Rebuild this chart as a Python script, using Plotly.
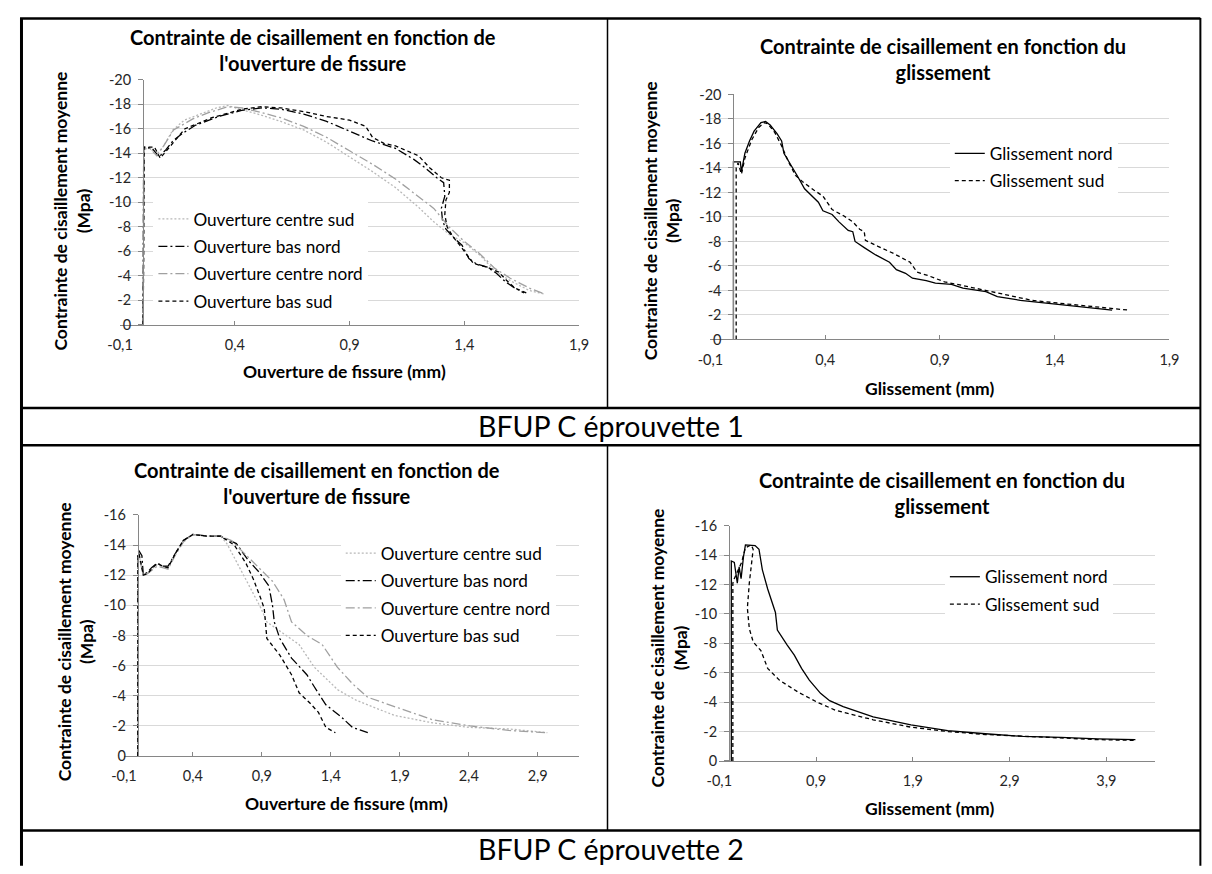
import plotly.graph_objects as go

# The page body keeps the browser's default 8 px margin, so the figure is
# sized to fit exactly inside the 1212x874 window.
PAGE_W, PAGE_H = 1212, 874
OFF = 8
W, H = PAGE_W - 2 * OFF, PAGE_H - 2 * OFF

# ---------------- DATA ----------------
# Panel 1 : BFUP C éprouvette 1 - ouverture de fissure (mm) vs contrainte (MPa)
p1_centre_sud_x = [0.0, 0.002, 0.003, 0.03, 0.06, 0.09, 0.13, 0.18, 0.25, 0.32, 0.37, 0.42, 0.5, 0.6, 0.7, 0.8, 0.9, 1.0, 1.1, 1.167, 1.2, 1.267, 1.333, 1.4, 1.467, 1.533, 1.6, 1.683, 1.75]
p1_centre_sud_y = [0.0, -7.0, -14.3, -14.4, -13.9, -14.6, -15.9, -16.7, -17.2, -17.7, -17.9, -17.6, -17.2, -16.6, -15.9, -14.9, -13.7, -12.5, -11.2, -10.1, -9.6, -8.4, -7.4, -6.7, -5.7, -4.4, -3.6, -2.8, -2.5]
p1_bas_nord_x = [0.0, 0.001, 0.003, 0.04, 0.07, 0.1, 0.13, 0.17, 0.23, 0.33, 0.43, 0.52, 0.6, 0.7, 0.8, 0.9, 1.0, 1.05, 1.1, 1.18, 1.23, 1.28, 1.31, 1.315, 1.3, 1.305, 1.32, 1.36, 1.39, 1.42, 1.45, 1.5, 1.54, 1.58, 1.62, 1.66]
p1_bas_nord_y = [0.0, -6.0, -14.5, -14.4, -13.7, -14.3, -15.0, -15.6, -16.3, -17.0, -17.5, -17.7, -17.6, -17.2, -16.6, -15.8, -15.0, -14.7, -14.4, -13.5, -12.8, -12.0, -11.6, -10.5, -9.5, -8.5, -7.8, -7.0, -6.5, -5.4, -5.0, -4.7, -4.2, -3.5, -3.0, -2.6]
p1_centre_nord_x = [0.0, 0.002, 0.004, 0.03, 0.06, 0.09, 0.133, 0.217, 0.283, 0.37, 0.43, 0.5, 0.6, 0.7, 0.8, 0.9, 1.0, 1.1, 1.2, 1.267, 1.333, 1.4, 1.467, 1.533, 1.6, 1.683, 1.75]
p1_centre_nord_y = [0.0, -8.0, -14.4, -14.4, -13.8, -14.6, -15.9, -16.8, -17.3, -17.8, -17.7, -17.4, -16.9, -16.2, -15.3, -14.2, -13.1, -11.9, -10.5, -9.5, -8.0, -6.8, -5.8, -4.6, -3.8, -3.0, -2.5]
p1_bas_sud_x = [0.0, 0.003, 0.005, 0.05, 0.075, 0.11, 0.183, 0.3, 0.433, 0.517, 0.6, 0.7, 0.8, 0.9, 0.97, 1.0, 1.05, 1.1, 1.15, 1.2, 1.25, 1.3, 1.335, 1.335, 1.32, 1.315, 1.325, 1.35, 1.38, 1.41, 1.44, 1.5, 1.55, 1.58, 1.62, 1.67]
p1_bas_sud_y = [0.0, -5.0, -14.5, -14.5, -13.6, -14.4, -16.0, -16.9, -17.6, -17.8, -17.7, -17.4, -17.0, -16.7, -16.2, -15.3, -14.8, -14.6, -14.2, -13.8, -12.8, -12.0, -11.8, -10.8, -10.2, -9.0, -8.0, -7.2, -6.5, -5.7, -5.0, -4.7, -4.3, -3.7, -3.0, -2.6]

# Panel 2 : BFUP C éprouvette 1 - glissement (mm) vs contrainte (MPa)
p2_nord_x = [0.0, 0.0, 0.03, 0.035, 0.05, 0.07, 0.09, 0.12, 0.14, 0.16, 0.19, 0.21, 0.22, 0.25, 0.28, 0.31, 0.35, 0.37, 0.39, 0.43, 0.46, 0.5, 0.52, 0.53, 0.57, 0.62, 0.68, 0.71, 0.75, 0.78, 0.84, 0.88, 0.95, 1.0, 1.1, 1.15, 1.25, 1.35, 1.45, 1.55, 1.65]
p2_nord_y = [0.0, -14.5, -14.5, -13.7, -15.2, -16.2, -17.0, -17.7, -17.8, -17.5, -16.8, -16.2, -15.2, -14.3, -13.3, -12.3, -11.6, -11.2, -10.5, -10.2, -9.6, -8.9, -8.8, -8.0, -7.5, -6.9, -6.3, -5.7, -5.4, -5.0, -4.8, -4.6, -4.5, -4.2, -3.9, -3.5, -3.2, -3.0, -2.8, -2.6, -2.4]
p2_sud_x = [0.012, 0.012, 0.02, 0.035, 0.05, 0.08, 0.11, 0.135, 0.15, 0.18, 0.21, 0.24, 0.27, 0.3, 0.35, 0.39, 0.43, 0.48, 0.52, 0.55, 0.57, 0.575, 0.63, 0.7, 0.77, 0.8, 0.85, 0.92, 1.0, 1.1, 1.2, 1.3, 1.45, 1.6, 1.72]
p2_sud_y = [0.0, -14.0, -14.4, -13.5, -14.8, -16.3, -17.3, -17.7, -17.6, -16.9, -15.8, -14.5, -13.4, -12.9, -12.2, -11.7, -10.6, -10.1, -9.6, -9.0, -8.8, -8.1, -7.6, -7.0, -6.3, -5.5, -5.2, -4.7, -4.4, -4.0, -3.6, -3.2, -2.9, -2.6, -2.4]

# Panel 3 : BFUP C éprouvette 2 - ouverture de fissure (mm) vs contrainte (MPa)
p3_centre_sud_x = [0.0, 0.001, 0.01, 0.04, 0.07, 0.1, 0.14, 0.18, 0.22, 0.27, 0.33, 0.4, 0.5, 0.6, 0.646, 0.756, 0.894, 0.936, 1.03, 1.17, 1.28, 1.45, 1.585, 1.86, 2.14, 2.41, 2.69, 2.97]
p3_centre_sud_y = [0.0, -13.3, -13.3, -12.1, -12.1, -12.4, -12.7, -12.6, -12.5, -13.4, -14.3, -14.7, -14.6, -14.6, -14.1, -12.2, -9.8, -8.9, -8.3, -7.4, -5.9, -4.4, -3.7, -2.7, -2.2, -1.9, -1.8, -1.55]
p3_bas_nord_x = [0.0, 0.001, 0.01, 0.03, 0.04, 0.07, 0.1, 0.14, 0.18, 0.22, 0.27, 0.33, 0.4, 0.5, 0.6, 0.715, 0.8, 0.88, 0.95, 0.977, 0.99, 1.03, 1.115, 1.226, 1.28, 1.364, 1.475, 1.557, 1.668]
p3_bas_nord_y = [0.0, -13.5, -13.6, -13.3, -12.0, -12.2, -12.5, -12.8, -12.6, -12.6, -13.4, -14.3, -14.7, -14.6, -14.6, -14.1, -13.0, -12.2, -11.3, -10.0, -8.9, -7.8, -6.5, -5.4, -4.6, -3.4, -2.6, -1.9, -1.55]
p3_centre_nord_x = [0.0, 0.001, 0.01, 0.04, 0.07, 0.1, 0.14, 0.18, 0.22, 0.27, 0.33, 0.4, 0.5, 0.6, 0.68, 0.756, 0.867, 0.977, 1.06, 1.115, 1.226, 1.337, 1.447, 1.557, 1.668, 1.86, 2.14, 2.41, 2.69, 2.97]
p3_centre_nord_y = [0.0, -13.2, -13.2, -12.0, -12.1, -12.3, -12.6, -12.5, -12.4, -13.3, -14.2, -14.7, -14.6, -14.6, -14.3, -13.6, -12.6, -11.6, -10.4, -8.9, -8.0, -7.4, -5.9, -4.8, -3.9, -3.3, -2.4, -2.0, -1.7, -1.55]
p3_bas_sud_x = [0.0, 0.001, 0.01, 0.04, 0.07, 0.1, 0.14, 0.18, 0.22, 0.27, 0.33, 0.4, 0.5, 0.6, 0.7, 0.784, 0.84, 0.894, 0.917, 0.936, 1.03, 1.115, 1.17, 1.25, 1.31, 1.364, 1.433]
p3_bas_sud_y = [0.0, -13.4, -13.4, -12.0, -12.1, -12.4, -12.8, -12.6, -12.5, -13.4, -14.3, -14.7, -14.6, -14.6, -14.0, -12.8, -11.7, -10.4, -9.8, -7.8, -6.7, -5.4, -4.2, -3.5, -2.9, -1.9, -1.55]

# Panel 4 : BFUP C éprouvette 2 - glissement (mm) vs contrainte (MPa)
p4_nord_x = [0.024, 0.024, 0.055, 0.086, 0.105, 0.125, 0.15, 0.17, 0.27, 0.31, 0.345, 0.4, 0.48, 0.5, 0.6, 0.675, 0.75, 0.83, 0.946, 1.04, 1.18, 1.49, 1.88, 2.26, 2.65, 3.04, 3.43, 3.81, 4.2]
p4_nord_y = [0.0, -13.6, -13.5, -12.1, -13.2, -12.4, -13.9, -14.7, -14.65, -14.4, -13.0, -11.7, -10.1, -8.9, -7.9, -7.2, -6.3, -5.5, -4.6, -4.1, -3.7, -3.0, -2.45, -2.07, -1.85, -1.67, -1.6, -1.5, -1.45]
p4_sud_x = [0.04, 0.04, 0.055, 0.094, 0.13, 0.17, 0.23, 0.25, 0.21, 0.19, 0.21, 0.25, 0.33, 0.4, 0.52, 0.71, 0.91, 1.1, 1.49, 1.88, 2.26, 2.65, 3.04, 3.43, 3.81, 4.2]
p4_sud_y = [0.0, -12.1, -12.4, -13.0, -13.5, -14.5, -14.7, -14.4, -12.1, -10.4, -9.0, -8.1, -7.5, -6.3, -5.5, -4.7, -4.0, -3.45, -2.8, -2.3, -2.0, -1.8, -1.67, -1.55, -1.45, -1.4]

# Tick values and labels
xticks_p12 = [-0.1, 0.4, 0.9, 1.4, 1.9]
xticklabels_p12 = ["-0,1", "0,4", "0,9", "1,4", "1,9"]
xticks_p3 = [-0.1, 0.4, 0.9, 1.4, 1.9, 2.4, 2.9]
xticklabels_p3 = ["-0,1", "0,4", "0,9", "1,4", "1,9", "2,4", "2,9"]
xticks_p4 = [-0.1, 0.9, 1.9, 2.9, 3.9]
xticklabels_p4 = ["-0,1", "0,9", "1,9", "2,9", "3,9"]
yticks_p12 = [0, -2, -4, -6, -8, -10, -12, -14, -16, -18, -20]
yticklabels_p12 = ["0", "-2", "-4", "-6", "-8", "-10", "-12", "-14", "-16", "-18", "-20"]
yticks_p34 = [0, -2, -4, -6, -8, -10, -12, -14, -16]
yticklabels_p34 = ["0", "-2", "-4", "-6", "-8", "-10", "-12", "-14", "-16"]

title_ouv = "Contrainte de cisaillement en fonction de<br>l'ouverture de fissure"
title_gli = "Contrainte de cisaillement en fonction du<br>glissement"
ytitle = "Contrainte de cisaillement moyenne<br>(Mpa)"
xtitle_ouv = "Ouverture de fissure (mm)"
xtitle_gli = "Glissement (mm)"
captions = ["BFUP C éprouvette 1", "BFUP C éprouvette 2"]

# ---------------- STYLE / LAYOUT ----------------
FONT = "Lato"
AX = "#868686"
GRID = "#d9d9d9"
TXT = "#262626"


def PX(p):
    """page pixel x -> paper fraction"""
    return (p - OFF) / W


def PY(p):
    """page pixel y -> paper fraction"""
    return 1 - (p - OFF) / H


panels = [
    dict(x0=109, x1=577, y0=72, y1=322, xr=[-0.1, 1.9], yr=[0, -20], xt=xticks_p12, xl=xticklabels_p12, yt=yticks_p12, yl=yticklabels_p12),
    dict(x0=711, x1=1179, y0=87, y1=337, xr=[-0.1, 1.9], yr=[0, -20], xt=xticks_p12, xl=xticklabels_p12, yt=yticks_p12, yl=yticklabels_p12),
    dict(x0=113, x1=577, y0=516, y1=762, xr=[-0.1, 3.2], yr=[0, -16], xt=xticks_p3, xl=xticklabels_p3, yt=yticks_p34, yl=yticklabels_p34),
    dict(x0=720, x1=1164, y0=527, y1=767, xr=[-0.1, 4.4], yr=[0, -16], xt=xticks_p4, xl=xticklabels_p4, yt=yticks_p34, yl=yticklabels_p34),
]

fig = go.Figure()

styles_ouv = [
    ("Ouverture centre sud", "#b8b8b8", "2px,2px", 1.3),
    ("Ouverture bas nord", "#000000", "9px,3px,2px,3px", 1.3),
    ("Ouverture centre nord", "#a0a0a0", "9px,3px,2px,3px", 1.3),
    ("Ouverture bas sud", "#000000", "4px,3px", 1.3),
]
styles_gli = [
    ("Glissement nord", "#000000", "solid", 1.3),
    ("Glissement sud", "#000000", "4px,3px", 1.3),
]

series = [
    (1, styles_ouv, [(p1_centre_sud_x, p1_centre_sud_y), (p1_bas_nord_x, p1_bas_nord_y), (p1_centre_nord_x, p1_centre_nord_y), (p1_bas_sud_x, p1_bas_sud_y)]),
    (2, styles_gli, [(p2_nord_x, p2_nord_y), (p2_sud_x, p2_sud_y)]),
    (3, styles_ouv, [(p3_centre_sud_x, p3_centre_sud_y), (p3_bas_nord_x, p3_bas_nord_y), (p3_centre_nord_x, p3_centre_nord_y), (p3_bas_sud_x, p3_bas_sud_y)]),
    (4, styles_gli, [(p4_nord_x, p4_nord_y), (p4_sud_x, p4_sud_y)]),
]

for idx, styles, data in series:
    sfx = "" if idx == 1 else str(idx)
    for (name, color, dash, width), (xs, ys) in zip(styles, data):
        fig.add_trace(go.Scatter(
            x=xs, y=ys, mode="lines", name=name,
            line=dict(color=color, dash=dash, width=width),
            xaxis="x" + sfx, yaxis="y" + sfx,
            legend="legend" + sfx, legendgroup=name + sfx,
            hoverinfo="skip",
        ))

layout = dict(
    width=W, height=H, autosize=False,
    margin=dict(l=0, r=0, t=0, b=0, pad=0),
    paper_bgcolor="white", plot_bgcolor="white",
    font=dict(family=FONT, color=TXT),
    showlegend=True,
)

for i, p in enumerate(panels, start=1):
    sfx = "" if i == 1 else str(i)
    xspan = p["xr"][1] - p["xr"][0]
    zero_px = p["x0"] + (0 - p["xr"][0]) / xspan * (p["x1"] - p["x0"])
    layout["xaxis" + sfx] = dict(
        domain=[PX(p["x0"]), PX(p["x1"])], anchor="y" + sfx, range=p["xr"],
        tickvals=p["xt"], ticktext=p["xl"], showgrid=False, zeroline=False,
        showline=True, linecolor=AX, linewidth=1, ticks="inside", ticklen=4,
        tickcolor=AX, tickfont=dict(family=FONT, size=14.5, color=TXT),
        ticklabelstandoff=7, fixedrange=True,
    )
    layout["yaxis" + sfx] = dict(
        domain=[PY(p["y1"]), PY(p["y0"])], anchor="free", position=PX(zero_px),
        range=p["yr"], tickvals=p["yt"], ticktext=p["yl"], showgrid=True,
        gridcolor=GRID, gridwidth=1, zeroline=False, showline=True,
        linecolor=AX, linewidth=1, ticks="outside", ticklen=5, tickcolor=AX,
        tickfont=dict(family=FONT, size=14.5, color=TXT), ticklabelstandoff=4,
        fixedrange=True,
    )

legend_pos = [(143, 196), (955, 129), (334, 537), (950, 561)]
for i, (lx, ly) in enumerate(legend_pos, start=1):
    sfx = "" if i == 1 else str(i)
    layout["legend" + sfx] = dict(
        x=PX(lx), y=PY(ly), xanchor="left", yanchor="top",
        bgcolor="white", borderwidth=0, tracegroupgap=2,
        font=dict(family=FONT, size=17.2, color="#000000"), itemwidth=30,
        itemclick=False, itemdoubleclick=False,
    )

annotations = []
titles = [(title_ouv, 306, 42), (title_gli, 948, 51), (title_ouv, 310, 483.5), (title_gli, 947, 493.5)]
for t, cx, cy in titles:
    annotations.append(dict(text="<b>" + t + "</b>", x=PX(cx), y=PY(cy), xref="paper", yref="paper",
                            showarrow=False, xanchor="center", yanchor="middle",
                            font=dict(family=FONT, size=20, color="#000000")))
ytitles = [(60.5, 206), (661, 216), (64, 645), (669, 652)]
for cx, cy in ytitles:
    annotations.append(dict(text="<b>" + ytitle + "</b>", x=PX(cx), y=PY(cy), xref="paper", yref="paper",
                            showarrow=False, xanchor="center", yanchor="middle", textangle=-90,
                            font=dict(family=FONT, size=17.5, color="#000000")))
xtitles = [(xtitle_ouv, 338, 370), (xtitle_gli, 934, 387), (xtitle_ouv, 340, 810), (xtitle_gli, 934, 815)]
for t, cx, cy in xtitles:
    annotations.append(dict(text="<b>" + t + "</b>", x=PX(cx), y=PY(cy), xref="paper", yref="paper",
                            showarrow=False, xanchor="center", yanchor="middle",
                            font=dict(family=FONT, size=17.5, color="#000000")))
for t, cy in zip(captions, [425, 857]):
    annotations.append(dict(text=t, x=PX(610), y=PY(cy), xref="paper", yref="paper",
                            showarrow=False, xanchor="center", yanchor="middle",
                            font=dict(family=FONT, size=28.5, color="#000000")))
layout["annotations"] = annotations

# Table borders
shapes = []


def hline(y, x0=7, x1=1210.5, w=2.5):
    shapes.append(dict(type="line", xref="paper", yref="paper", x0=PX(x0), x1=PX(x1), y0=PY(y), y1=PY(y),
                       line=dict(color="black", width=w)))


def vline(x, y0, y1, w=2):
    shapes.append(dict(type="line", xref="paper", yref="paper", x0=PX(x), x1=PX(x), y0=PY(y0), y1=PY(y1),
                       line=dict(color="black", width=w)))


for yy in [9.5, 407, 445, 838]:
    hline(yy)
vline(8.5, 9, 874, 3)
vline(1210.5, 9, 874, 2)
vline(606, 9, 407, 1.5)
vline(606, 445, 838, 1.5)
layout["shapes"] = shapes

fig.update_layout(**layout)
fig.write_html("out.html", config={"displayModeBar": False})
